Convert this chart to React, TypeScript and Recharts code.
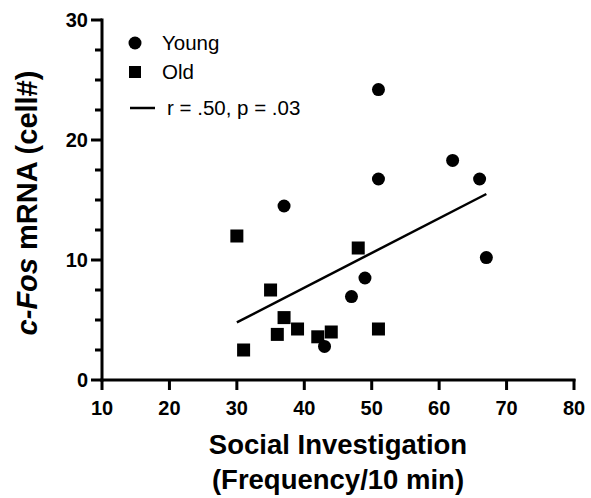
import { ScatterChart, Scatter, XAxis, YAxis, ReferenceLine } from 'recharts'

const youngX = [37, 51, 51, 62, 66, 67, 49, 47, 43]
const youngY = [14.5, 24.2, 16.75, 18.3, 16.75, 10.2, 8.5, 6.95, 2.8]
const oldX = [30, 48, 35, 37, 39, 36, 42, 44, 51, 31]
const oldY = [12, 11, 7.5, 5.2, 4.25, 3.8, 3.6, 4.0, 4.25, 2.5]
const fitX = [30, 67]
const fitY = [4.8, 15.5]
const xTicks = [10, 20, 30, 40, 50, 60, 70, 80]
const yTicks = [0, 2.5, 5, 7.5, 10, 12.5, 15, 17.5, 20, 22.5, 25, 27.5, 30]

const young = youngX.map((x, i) => ({ x, y: youngY[i] }))
const old = oldX.map((x, i) => ({ x, y: oldY[i] }))

const FONT = '"Liberation Sans", Arial, sans-serif'

const Dot = (props: any) => <circle cx={props.cx} cy={props.cy} r={6.5} fill="#000" />
const Sq = (props: any) => <rect x={props.cx - 6.5} y={props.cy - 6.5} width={13} height={13} fill="#000" />

// tickMargin = 0, so x is the axis position minus tickSize (10)
const YTick = ({ x, y, payload }: any) => {
  const major = payload.value % 10 === 0
  const ax = x + 10
  return (
    <g>
      <rect x={ax - (major ? 11 : 7)} y={y - 1.5} width={major ? 11 : 7} height={3} fill="#000" />
      {major && (
        <text x={ax - 14} y={y + 7} textAnchor="end" fontFamily={FONT} fontWeight="bold" fontSize={20} fill="#000">
          {payload.value}
        </text>
      )}
    </g>
  )
}

const XTick = ({ x, y, payload }: any) => (
  <g>
    <rect x={x - 1.5} y={y - 11} width={3} height={11} fill="#000" />
    <text x={x} y={y + 25} textAnchor="middle" fontFamily={FONT} fontWeight="bold" fontSize={20} fill="#000">
      {payload.value}
    </text>
  </g>
)

const XLabel = ({ viewBox }: any) => {
  const cx = viewBox.x + viewBox.width / 2
  return (
    <g fontFamily={FONT} fontWeight="bold" fontSize={27.5} fill="#000">
      <text x={cx} y={454} textAnchor="middle">Social Investigation</text>
      <text x={cx} y={489} textAnchor="middle">(Frequency/10 min)</text>
    </g>
  )
}

const YLabel = ({ viewBox }: any) => {
  const cy = viewBox.y + viewBox.height / 2 + 3
  return (
    <text
      x={37}
      y={cy}
      transform={`rotate(-90, 37, ${cy})`}
      textAnchor="middle"
      fontFamily={FONT}
      fontWeight="bold"
      fontSize={29}
      fill="#000"
    >
      <tspan fontStyle="italic">c-Fos</tspan> mRNA (cell#)
    </text>
  )
}

function LegendBox() {
  return (
    <svg width={260} height={100} style={{ position: 'absolute', left: 120, top: 25 }}>
      <g fontFamily={FONT} fontSize={20.5} fill="#000">
        <circle cx={15} cy={18} r={6.5} />
        <text x={42} y={25}>Young</text>
        <rect x={9} y={41} width={12} height={12} />
        <text x={42} y={54}>Old</text>
        <line x1={10} y1={83} x2={35} y2={83} stroke="#000" strokeWidth={2.5} />
        <text x={47} y={90}>r = .50, p = .03</text>
      </g>
    </svg>
  )
}

export default function App() {
  return (
    <div style={{ position: 'absolute', left: 0, top: 0, width: 591, height: 498, background: '#fff' }}>
      <ScatterChart width={591} height={498} margin={{ top: 20, right: 17, bottom: 0, left: 0 }}>
        <XAxis
          type="number"
          dataKey="x"
          domain={[10, 80]}
          ticks={xTicks}
          interval={0}
          height={118}
          axisLine={false}
          tickLine={false}
          tickSize={10}
          tickMargin={0}
          tick={<XTick />}
          label={<XLabel />}
        />
        <YAxis
          type="number"
          dataKey="y"
          domain={[0, 30]}
          ticks={yTicks}
          interval={0}
          width={102}
          axisLine={false}
          tickLine={false}
          tickSize={10}
          tickMargin={0}
          tick={<YTick />}
          label={<YLabel />}
        />
        <ReferenceLine
          segment={[{ x: 10, y: 0 }, { x: 10, y: 30 }]}
          stroke="#000"
          strokeWidth={3}
          strokeLinecap="square"
          ifOverflow="visible"
        />
        <ReferenceLine
          segment={[{ x: 10, y: 0 }, { x: 80, y: 0 }]}
          stroke="#000"
          strokeWidth={3}
          strokeLinecap="square"
          ifOverflow="visible"
        />
        <ReferenceLine
          segment={[{ x: fitX[0], y: fitY[0] }, { x: fitX[1], y: fitY[1] }]}
          stroke="#000"
          strokeWidth={2.5}
          ifOverflow="visible"
        />
        <Scatter name="Young" data={young} shape={<Dot />} isAnimationActive={false} />
        <Scatter name="Old" data={old} shape={<Sq />} isAnimationActive={false} />
      </ScatterChart>
      <LegendBox />
    </div>
  )
}
